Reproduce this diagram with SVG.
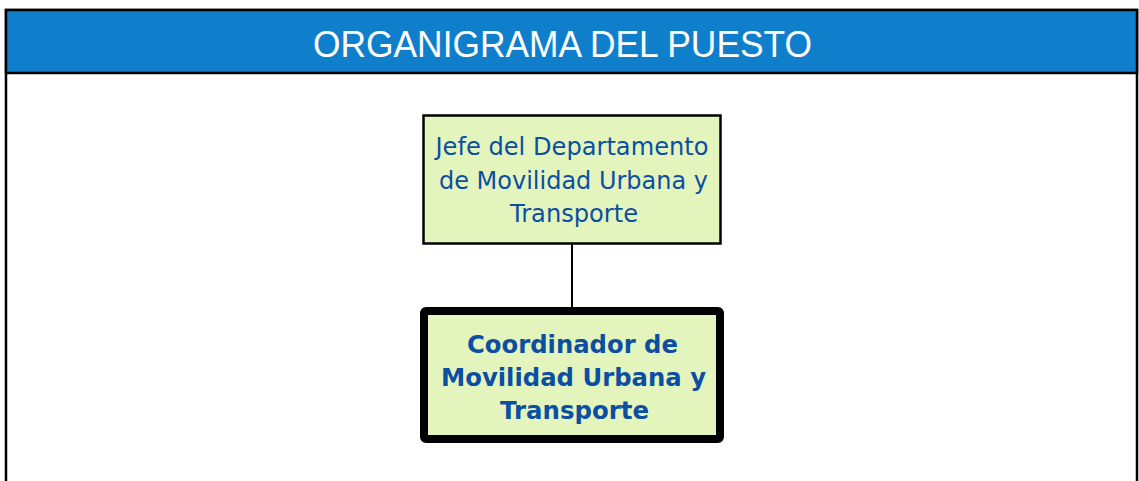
<svg xmlns="http://www.w3.org/2000/svg" width="1139" height="481" viewBox="0 0 1139 481">
<style>
.frame{fill:#ffffff;stroke:#000;stroke-width:2.5}
.header{fill:#0F7FCC;stroke:#000;stroke-width:2.5}
.title{font-family:"Liberation Sans",Arial,sans-serif;font-size:37px;fill:#ffffff}
.box{fill:#E3F5BD;stroke:#000}
.t1{font-family:"DejaVu Sans",Verdana,sans-serif;font-size:24px;fill:#0B4EA2;text-anchor:middle}
.t2{font-family:"DejaVu Sans",Verdana,sans-serif;font-size:25px;font-weight:bold;fill:#0B4EA2;text-anchor:middle}
.conn{stroke:#000;stroke-width:2;fill:none}
</style>
<rect class="frame" x="6" y="10" width="1131" height="480"/>
<rect class="header" x="6" y="10" width="1131" height="63"/>
<text class="title" x="313" y="56.5" textLength="499" lengthAdjust="spacingAndGlyphs">ORGANIGRAMA DEL PUESTO</text>
<g id="connectors">
<line class="conn" x1="572" y1="244" x2="572" y2="310"/>
</g>
<g id="jefe">
<rect class="box" x="423.5" y="115.5" width="297" height="128" stroke-width="2.5"/>
<text class="t1"><tspan x="572" y="155" textLength="273" lengthAdjust="spacingAndGlyphs">Jefe del Departamento</tspan><tspan x="573.5" y="189" textLength="269" lengthAdjust="spacingAndGlyphs">de Movilidad Urbana y</tspan><tspan x="574" y="222" textLength="128" lengthAdjust="spacingAndGlyphs">Transporte</tspan></text>
</g>
<g id="coordinador">
<rect class="box" x="424" y="311" width="296" height="128" rx="2" stroke-width="8"/>
<text class="t2"><tspan x="572.5" y="353" textLength="211" lengthAdjust="spacingAndGlyphs">Coordinador de</tspan><tspan x="573.5" y="386" textLength="265" lengthAdjust="spacingAndGlyphs">Movilidad Urbana y</tspan><tspan x="574.5" y="419" textLength="149" lengthAdjust="spacingAndGlyphs">Transporte</tspan></text>
</g>
</svg>
